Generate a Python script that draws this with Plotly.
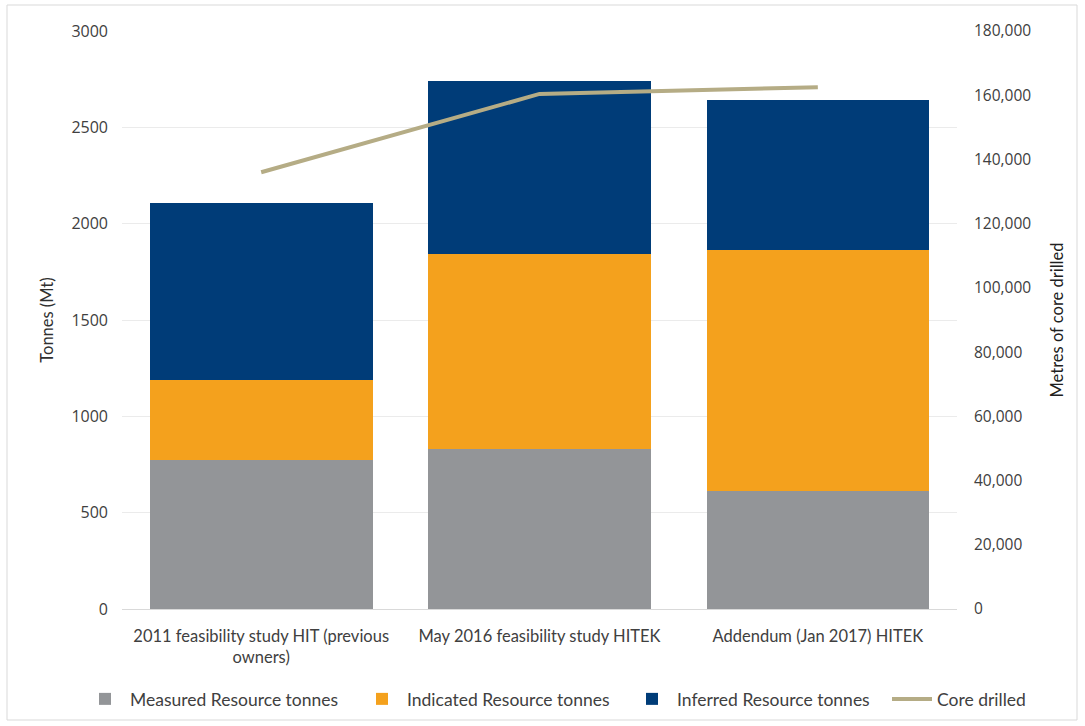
import plotly.graph_objects as go

categories = ["2011 feasibility study HIT (previous<br>owners)",
              "May 2016 feasibility study HITEK",
              "Addendum (Jan 2017) HITEK"]
measured = [775, 830, 612]
indicated = [415, 1012, 1251]
inferred = [915, 898, 778]
core_drilled = [136000, 160400, 162500]

left_ticks = [0, 500, 1000, 1500, 2000, 2500, 3000]
right_ticks = [0, 20000, 40000, 60000, 80000, 100000, 120000, 140000, 160000, 180000]

font_tick = "Open Sans, DejaVu Sans, sans-serif"
font_text = "Lato, Open Sans, sans-serif"

fig = go.Figure()
fig.add_trace(go.Bar(x=categories, y=measured, name="Measured Resource tonnes", legend="legend",
                     marker=dict(color="#939598", line=dict(width=0))))
fig.add_trace(go.Bar(x=categories, y=indicated, name="Indicated Resource tonnes", legend="legend2",
                     marker=dict(color="#F4A11D", line=dict(width=0))))
fig.add_trace(go.Bar(x=categories, y=inferred, name="Inferred Resource tonnes", legend="legend3",
                     marker=dict(color="#003C78", line=dict(width=0))))
fig.add_trace(go.Scatter(x=categories, y=core_drilled, name="Core drilled", yaxis="y2", legend="legend4",
                         mode="lines", line=dict(color="#B5AC85", width=4)))

plot_l, plot_w, plot_b, plot_h = 122, 835, 609, 578


def legend_at(px):
    return dict(orientation="h", x=(px - plot_l) / plot_w, xanchor="left",
                y=-(699 - plot_b) / plot_h, yanchor="middle",
                font=dict(family=font_text, size=17.5, color="#404040"),
                itemwidth=40, bgcolor="rgba(0,0,0,0)")


fig.update_layout(
    width=1085, height=726,
    margin=dict(l=122, r=128, t=31, b=117, autoexpand=False),
    barmode="stack", bargap=0.2,
    paper_bgcolor="white", plot_bgcolor="white",
    font=dict(family=font_tick, size=15, color="#404040"),
    xaxis=dict(showgrid=False, showline=True, linecolor="#D9D9D9", linewidth=1,
               tickfont=dict(family=font_text, size=16.5, color="#404040"),
               ticks="", automargin=False, ticklabelstandoff=12),
    yaxis=dict(range=[0, 3000], tickvals=left_ticks, showgrid=True, gridcolor="#EBEBEB",
               zeroline=False, ticks="", automargin=False, ticklabelstandoff=13,
               title=dict(text="Tonnes (Mt)", font=dict(family=font_text, size=16.5, color="#303030"), standoff=13),
               tickfont=dict(family=font_tick, size=16, color="#404040")),
    yaxis2=dict(range=[0, 180000], tickvals=right_ticks, overlaying="y", side="right",
                showgrid=False, zeroline=False, tickformat=",", automargin=False,
                title=dict(text="Metres of core drilled", font=dict(family=font_text, size=16.5, color="#202020"), standoff=21),
                tickfont=dict(family=font_tick, size=15.5, color="#404040"), ticklabelstandoff=16),
    legend=legend_at(80),
    legend2=legend_at(357),
    legend3=legend_at(627),
    legend4=legend_at(887),
    showlegend=True,
)

fig.add_shape(type="rect", xref="paper", yref="paper",
              x0=-115 / 835, x1=1 + 120 / 835, y0=-111 / 578, y1=1 + 26 / 578,
              line=dict(color="#D9D9D9", width=1), layer="below")

fig.write_html("out.html")
